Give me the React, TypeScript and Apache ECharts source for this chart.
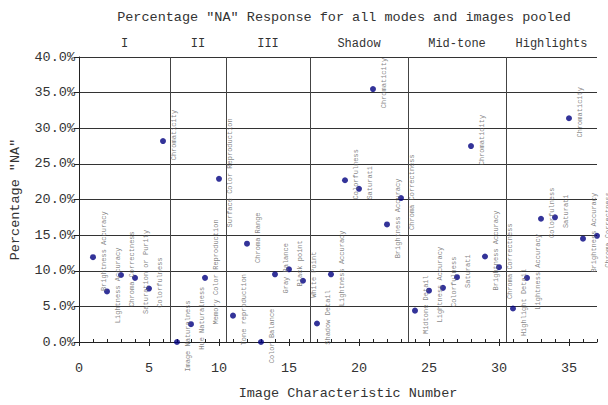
import React, { useEffect, useRef } from 'react';
import * as echarts from 'echarts';

const characteristicNumbers = [
  1, 2, 3, 4, 5, 6, 7, 8, 9, 10, 11, 12, 13, 14, 15, 16, 17, 18, 19,
  20, 21, 22, 23, 24, 25, 26, 27, 28, 29, 30, 31, 32, 33, 34, 35, 36, 37,
];
const naPercent = [
  11.9, 7.1, 9.4, 9.0, 7.5, 28.2, 0.0, 2.5, 9.0, 22.9, 3.7, 13.8, 0.0, 9.5, 10.2, 8.6, 2.6, 9.5, 22.7,
  21.5, 35.5, 16.5, 20.2, 4.4, 7.2, 7.6, 9.1, 27.5, 12.0, 10.5, 4.7, 9.0, 17.3, 17.5, 31.4, 14.5, 14.9,
];
const characteristicNames = [
  'Brightness Accuracy', 'Lightness Accuracy', 'Chroma Correctness', 'Saturation or Purity', 'Colorfulness',
  'Chromaticity', 'Image Naturalness', 'Hue Naturalness', 'Memory Color Reproduction',
  'Surface Color Reproduction', 'Tone reproduction', 'Chroma Range', 'Color Balance', 'Gray Balance',
  'Black point', 'White Point', 'Shadow Detail', 'Lightness Accuracy', 'Colorfulness', 'Saturati',
  'Chromaticity', 'Brightness Accuracy', 'Chroma Correctness', 'Midtone Detail', 'Lightness Accuracy',
  'Colorfulness', 'Saturati', 'Chromaticity', 'Brightness Accuracy', 'Chroma Correctness',
  'Highlight Detail', 'Lightness Accuracy', 'Colorfulness', 'Saturati', 'Chromaticity',
  'Brightness Accuracy', 'Chroma Correctness',
];
const sectionNames = ['I', 'II', 'III', 'Shadow', 'Mid-tone', 'Highlights'];
const sectionBounds = [0, 6.5, 10.5, 16.5, 23.5, 30.5, 37];

const FONT = '"Liberation Mono", "DejaVu Sans Mono", monospace';

export default function App() {
  const ref = useRef<HTMLDivElement>(null);
  useEffect(() => {
    if (!ref.current) return;
    const chart = echarts.init(ref.current, null, { renderer: 'svg' });
    const data = characteristicNumbers.map((n, i) => ({
      value: [n, naPercent[i]],
      name: characteristicNames[i],
    }));
    const separators = sectionBounds.slice(1, -1).map((b) => ({ xAxis: b }));
    const areas = sectionNames.map((name, i) => [
      { xAxis: sectionBounds[i], name },
      { xAxis: sectionBounds[i + 1] },
    ]);
    chart.setOption({
      animation: false,
      backgroundColor: '#fff',
      title: {
        text: 'Percentage "NA" Response for all modes and images pooled',
        left: 339,
        top: 5,
        textAlign: 'center',
        textStyle: { fontFamily: FONT, fontSize: 13.5, fontWeight: 'normal', color: '#333' },
      },
      grid: { left: 78, right: 11, top: 57, bottom: 55 },
      xAxis: [
        {
          type: 'value',
          min: 0,
          max: 37,
          interval: 5,
          position: 'bottom',
          name: 'Image Characteristic Number',
          nameLocation: 'middle',
          nameGap: 44,
          nameTextStyle: { fontFamily: FONT, fontSize: 13.5, color: '#333', padding: [0, 0, 0, 20] },
          axisLine: { show: true, onZero: false, lineStyle: { color: '#222', width: 1 } },
          axisTick: { show: true, inside: false, length: 4, lineStyle: { color: '#222' } },
          axisLabel: {
            fontFamily: FONT, fontSize: 13.5, color: '#333', margin: 19,
            showMaxLabel: false,
          },
          splitLine: { show: false },
        },
        {
          type: 'value',
          min: 0,
          max: 37,
          interval: 1,
          position: 'bottom',
          axisLine: { show: false },
          axisTick: { show: true, inside: true, length: 3, lineStyle: { color: '#222' } },
          axisLabel: { show: false },
          splitLine: { show: false },
        },
      ],
      yAxis: {
        type: 'value',
        min: 0,
        max: 40,
        interval: 5,
        name: 'Percentage "NA"',
        nameLocation: 'middle',
        nameGap: 57,
        nameTextStyle: { fontFamily: FONT, fontSize: 13.5, color: '#333' },
        axisLine: { show: true, lineStyle: { color: '#222', width: 1 } },
        axisTick: { show: true, inside: false, length: 5, lineStyle: { color: '#222' } },
        axisLabel: {
          fontFamily: FONT, fontSize: 13.5, color: '#333', margin: 4,
          formatter: (v: number) => v.toFixed(1) + '%',
        },
        splitLine: { show: true, lineStyle: { color: '#333', width: 1 } },
      },
      series: [
        {
          type: 'scatter',
          xAxisIndex: 0,
          data,
          symbol: 'circle',
          symbolSize: 6,
          itemStyle: { color: '#000080' },
          label: {
            show: true,
            formatter: '{b}',
            position: [14, -3],
            rotate: 90,
            align: 'center',
            verticalAlign: 'middle',
            fontFamily: FONT,
            fontSize: 7,
            color: '#666',
          },
          markLine: {
            silent: true,
            symbol: ['none', 'none'],
            label: { show: false },
            lineStyle: { color: '#444', type: 'solid', width: 1 },
            data: separators,
          },
          markArea: {
            silent: true,
            itemStyle: { color: 'rgba(0,0,0,0)' },
            label: {
              show: true,
              position: 'top',
              distance: 7,
              fontFamily: FONT,
              fontSize: 12,
              color: '#333',
            },
            data: areas,
          },
        },
      ],
    });
    return () => chart.dispose();
  }, []);
  return <div ref={ref} style={{ width: 608, height: 405, position: 'absolute', left: 0, top: 0 }} />;
}
